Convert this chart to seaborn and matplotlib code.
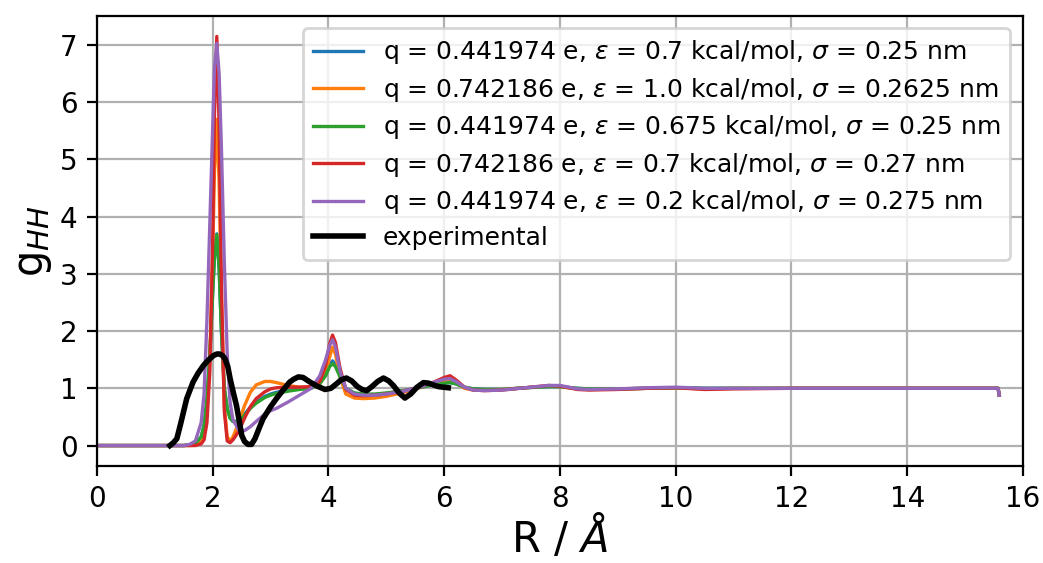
import numpy as np
import pandas as pd
import matplotlib
matplotlib.use('Agg')
import matplotlib.pyplot as plt
import seaborn as sns

# sample radii shared by the simulated g(r) curves (Angstrom)
r_sim = [0.05, 1.2, 1.5, 1.6, 1.7, 1.8, 1.85, 1.9, 1.95, 2.0, 2.03, 2.07, 2.11,
         2.15, 2.2, 2.25, 2.3, 2.35, 2.45, 2.55, 2.65, 2.75, 2.9, 3.0, 3.1, 3.3,
         3.5, 3.7, 3.85, 3.95, 4.02, 4.07, 4.12, 4.2, 4.3, 4.45, 4.6, 4.8, 5.0,
         5.3, 5.6, 5.8, 6.0, 6.1, 6.2, 6.35, 6.5, 6.7, 7.0, 7.4, 7.8, 8.0, 8.3,
         8.5, 9.0, 9.5, 10.0, 10.5, 11.0, 12.0, 13.0, 14.0, 15.0, 15.57, 15.59]

g_blue = [0, 0, 0, 0.01, 0.04, 0.15, 0.35, 0.8, 1.6, 2.7, 3.3, 3.7, 3.1,
          2.0, 1.0, 0.65, 0.48, 0.42, 0.43, 0.55, 0.67, 0.76, 0.86, 0.9, 0.93, 0.97,
          0.99, 1.01, 1.1, 1.26, 1.42, 1.48, 1.42, 1.22, 1.0, 0.91, 0.89, 0.89, 0.91,
          0.96, 1.02, 1.06, 1.09, 1.1, 1.08, 1.02, 0.99, 0.98, 0.98, 1.01, 1.03, 1.03, 1.0,
          0.99, 0.99, 1.0, 1.01, 1.0, 1.0, 1.0, 1.0, 1.0, 1.0, 1.0, 0.88]

g_orange = [0, 0, 0, 0, 0.01, 0.06, 0.2, 0.6, 1.5, 3.4, 4.8, 5.7, 4.6,
            2.5, 0.7, 0.15, 0.08, 0.15, 0.4, 0.7, 0.93, 1.06, 1.12, 1.12, 1.1, 1.05,
            1.02, 1.02, 1.08, 1.25, 1.55, 1.72, 1.6, 1.2, 0.9, 0.83, 0.82, 0.83, 0.86,
            0.93, 1.02, 1.08, 1.14, 1.15, 1.1, 1.0, 0.97, 0.97, 0.98, 1.01, 1.04, 1.03, 0.99,
            0.98, 0.99, 1.0, 1.01, 0.99, 1.0, 1.0, 1.0, 1.0, 1.0, 1.0, 0.88]

g_green = [0, 0, 0, 0.01, 0.04, 0.15, 0.35, 0.8, 1.6, 2.7, 3.3, 3.68, 3.1,
           2.0, 1.0, 0.65, 0.48, 0.42, 0.42, 0.53, 0.65, 0.74, 0.84, 0.88, 0.91, 0.95,
           0.98, 1.0, 1.08, 1.22, 1.38, 1.43, 1.38, 1.2, 1.0, 0.92, 0.9, 0.9, 0.92,
           0.96, 1.02, 1.06, 1.09, 1.1, 1.08, 1.02, 0.99, 0.98, 0.98, 1.01, 1.03, 1.03, 1.0,
           0.99, 0.99, 1.0, 1.01, 1.0, 1.0, 1.0, 1.0, 1.0, 1.0, 1.0, 0.88]

g_red = [0, 0, 0, 0, 0, 0.03, 0.1, 0.4, 1.3, 3.6, 5.8, 7.15, 5.6,
         2.8, 0.6, 0.08, 0.05, 0.1, 0.25, 0.48, 0.68, 0.82, 0.94, 0.99, 1.01, 1.02,
         1.02, 1.03, 1.12, 1.4, 1.78, 1.93, 1.8, 1.35, 0.98, 0.88, 0.87, 0.88, 0.9,
         0.95, 1.03, 1.1, 1.19, 1.22, 1.15, 1.02, 0.97, 0.96, 0.97, 1.01, 1.05, 1.04, 0.98,
         0.97, 0.98, 1.0, 1.01, 0.98, 0.99, 1.0, 1.0, 1.0, 1.0, 1.0, 0.88]

g_purple = [0, 0, 0, 0.02, 0.08, 0.4, 0.9, 2.2, 3.9, 5.6, 6.6, 7.03, 6.5,
            5.2, 3.2, 1.6, 0.75, 0.45, 0.27, 0.26, 0.33, 0.42, 0.55, 0.61, 0.65, 0.76,
            0.88, 1.0, 1.22, 1.5, 1.75, 1.85, 1.72, 1.3, 1.0, 0.9, 0.88, 0.88, 0.9,
            0.95, 1.03, 1.1, 1.16, 1.17, 1.12, 1.02, 0.97, 0.96, 0.97, 1.01, 1.05, 1.05, 0.99,
            0.98, 0.99, 1.01, 1.02, 1.0, 1.0, 1.0, 1.0, 1.0, 1.0, 1.0, 0.88]

# experimental g_HH
r_exp = [1.26, 1.32, 1.38, 1.45, 1.55, 1.66, 1.75, 1.84, 1.93, 2.01, 2.07, 2.12,
         2.17, 2.21, 2.26, 2.30, 2.35, 2.41, 2.46, 2.50, 2.55, 2.61, 2.67, 2.73,
         2.80, 2.87, 3.0, 3.10, 3.2, 3.33, 3.40, 3.48, 3.56, 3.68, 3.8, 3.94, 4.04,
         4.14, 4.22, 4.31, 4.40, 4.50, 4.58, 4.66, 4.75, 4.85, 4.95, 5.04, 5.12,
         5.22, 5.32, 5.42, 5.53, 5.64, 5.73, 5.81, 5.90, 6.07]
g_exp = [0.0, 0.05, 0.12, 0.4, 0.82, 1.11, 1.27, 1.40, 1.50, 1.57, 1.60, 1.60,
         1.57, 1.52, 1.38, 1.17, 0.95, 0.70, 0.42, 0.18, 0.07, 0.02, 0.02, 0.12,
         0.30, 0.47, 0.68, 0.82, 0.95, 1.11, 1.16, 1.20, 1.19, 1.11, 1.04, 0.98, 1.0,
         1.08, 1.15, 1.18, 1.13, 1.03, 0.98, 0.96, 1.03, 1.12, 1.18, 1.13, 1.05,
         0.92, 0.83, 0.90, 1.02, 1.10, 1.09, 1.06, 1.03, 1.01]

labels = [r'q = 0.441974 e, $\epsilon$ = 0.7 kcal/mol, $\sigma$ = 0.25 nm',
          r'q = 0.742186 e, $\epsilon$ = 1.0 kcal/mol, $\sigma$ = 0.2625 nm',
          r'q = 0.441974 e, $\epsilon$ = 0.675 kcal/mol, $\sigma$ = 0.25 nm',
          r'q = 0.742186 e, $\epsilon$ = 0.7 kcal/mol, $\sigma$ = 0.27 nm',
          r'q = 0.441974 e, $\epsilon$ = 0.2 kcal/mol, $\sigma$ = 0.275 nm']
series = [g_blue, g_orange, g_green, g_red, g_purple]
colors = ['#1f77b4', '#ff7f0e', '#2ca02c', '#d62728', '#9467bd']

plt.rcParams['font.size'] = 10
plt.rcParams['font.family'] = ['DejaVu Sans']

fig = plt.figure(figsize=(1043/200, 563/200), dpi=200)
ax = fig.add_axes([0.093, 0.1723, 0.8878, 0.7993])

for g, lab, c in zip(series, labels, colors):
    df = pd.DataFrame({'R': r_sim, 'g': g})
    sns.lineplot(data=df, x='R', y='g', ax=ax, color=c, lw=1.2, label=lab)
df_exp = pd.DataFrame({'R': r_exp, 'g': g_exp})
sns.lineplot(data=df_exp, x='R', y='g', ax=ax, color='black', lw=2, label='experimental')

ax.set_xlim(0, 16)
ax.grid(True)
ax.set_xlabel(r'R / $\AA$', fontsize=15, labelpad=0)
ax.set_ylabel(r'g$_{HH}$', fontsize=15, labelpad=2)
ax.legend(loc='upper right', fontsize=9, labelspacing=0.38)

fig.savefig('out.png', dpi=200)
